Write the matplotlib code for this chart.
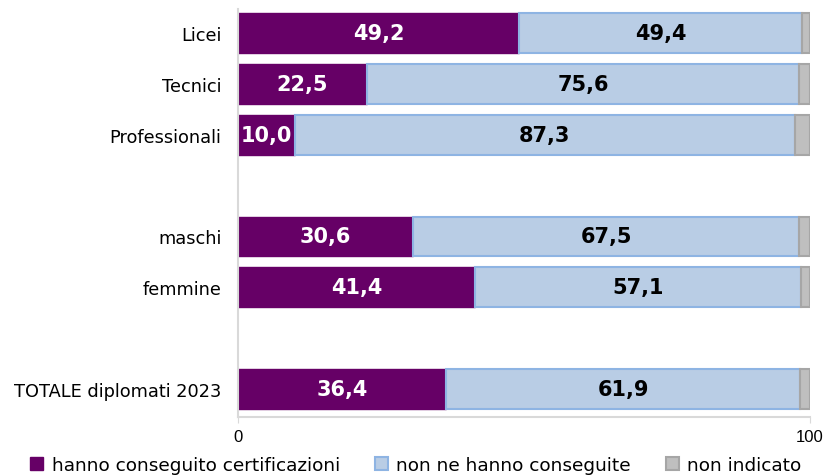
import numpy as np
import matplotlib
matplotlib.use('Agg')
import matplotlib.pyplot as plt

# data
categories = ['Licei', 'Tecnici', 'Professionali', 'maschi', 'femmine', 'TOTALE diplomati 2023']
positions = [0, 1, 2, 4, 5, 7]
certificati = [49.2, 22.5, 10.0, 30.6, 41.4, 36.4]
non_certificati = [49.4, 75.6, 87.3, 67.5, 57.1, 61.9]
non_indicato = [1.4, 1.9, 2.7, 1.9, 1.5, 1.7]
series_names = ['hanno conseguito certificazioni', 'non ne hanno conseguite', 'non indicato']

font = 'DejaVu Sans'

fig = plt.figure(figsize=(8.27, 4.77), dpi=100)
ax = fig.add_axes([0.2878, 0.1237, 0.6916, 0.8553])

h = 0.78
left1 = np.array(certificati)
left2 = left1 + np.array(non_certificati)
b1 = ax.barh(positions, certificati, height=h, color='#660066', edgecolor='#660066', linewidth=1,
             label=series_names[0])
b2 = ax.barh(positions, non_certificati, left=left1, height=h, color='#B9CDE5', edgecolor='#8EB4E3',
             linewidth=1.5, label=series_names[1])
b3 = ax.barh(positions, non_indicato, left=left2, height=h, color='#BFBFBF', edgecolor='#A6A6A6',
             linewidth=1.5, label=series_names[2])

for p, v in zip(positions, certificati):
    ax.text(v / 2, p, f'{v:.1f}'.replace('.', ','), ha='center', va='center', color='white',
            fontsize=15, fontweight='bold', family=font)
for p, l, v in zip(positions, left1, non_certificati):
    ax.text(l + v / 2, p, f'{v:.1f}'.replace('.', ','), ha='center', va='center', color='black',
            fontsize=15, fontweight='bold', family=font)

ax.set_xlim(0, 100)
ax.set_ylim(7.55, -0.47)
ax.set_yticks(positions)
ax.set_yticklabels(categories, fontsize=12.8, family=font)
ax.set_xticks([0, 100])
ax.set_xticklabels(['0', '100'])
for t in ax.get_xticklabels():
    t.set_fontsize(12)
    t.set_family('Liberation Sans')
ax.tick_params(axis='y', length=0, pad=12)
ax.tick_params(axis='x', length=4, color='#D9D9D9', pad=5)

for s in ['top', 'right']:
    ax.spines[s].set_visible(False)
ax.spines['left'].set_color('#D9D9D9')
ax.spines['bottom'].set_color('#D9D9D9')
ax.spines['left'].set_linewidth(1.5)
ax.spines['bottom'].set_linewidth(1.5)

leg = fig.legend(handles=[b1, b2, b3], loc='lower center', bbox_to_anchor=(0.503, -0.03), ncol=3,
                 frameon=False, handlelength=0.7, handleheight=0.7,
                 columnspacing=1.9, handletextpad=0.45, prop={'family': font, 'size': 13.3})

fig.savefig('out.png', dpi=100)
